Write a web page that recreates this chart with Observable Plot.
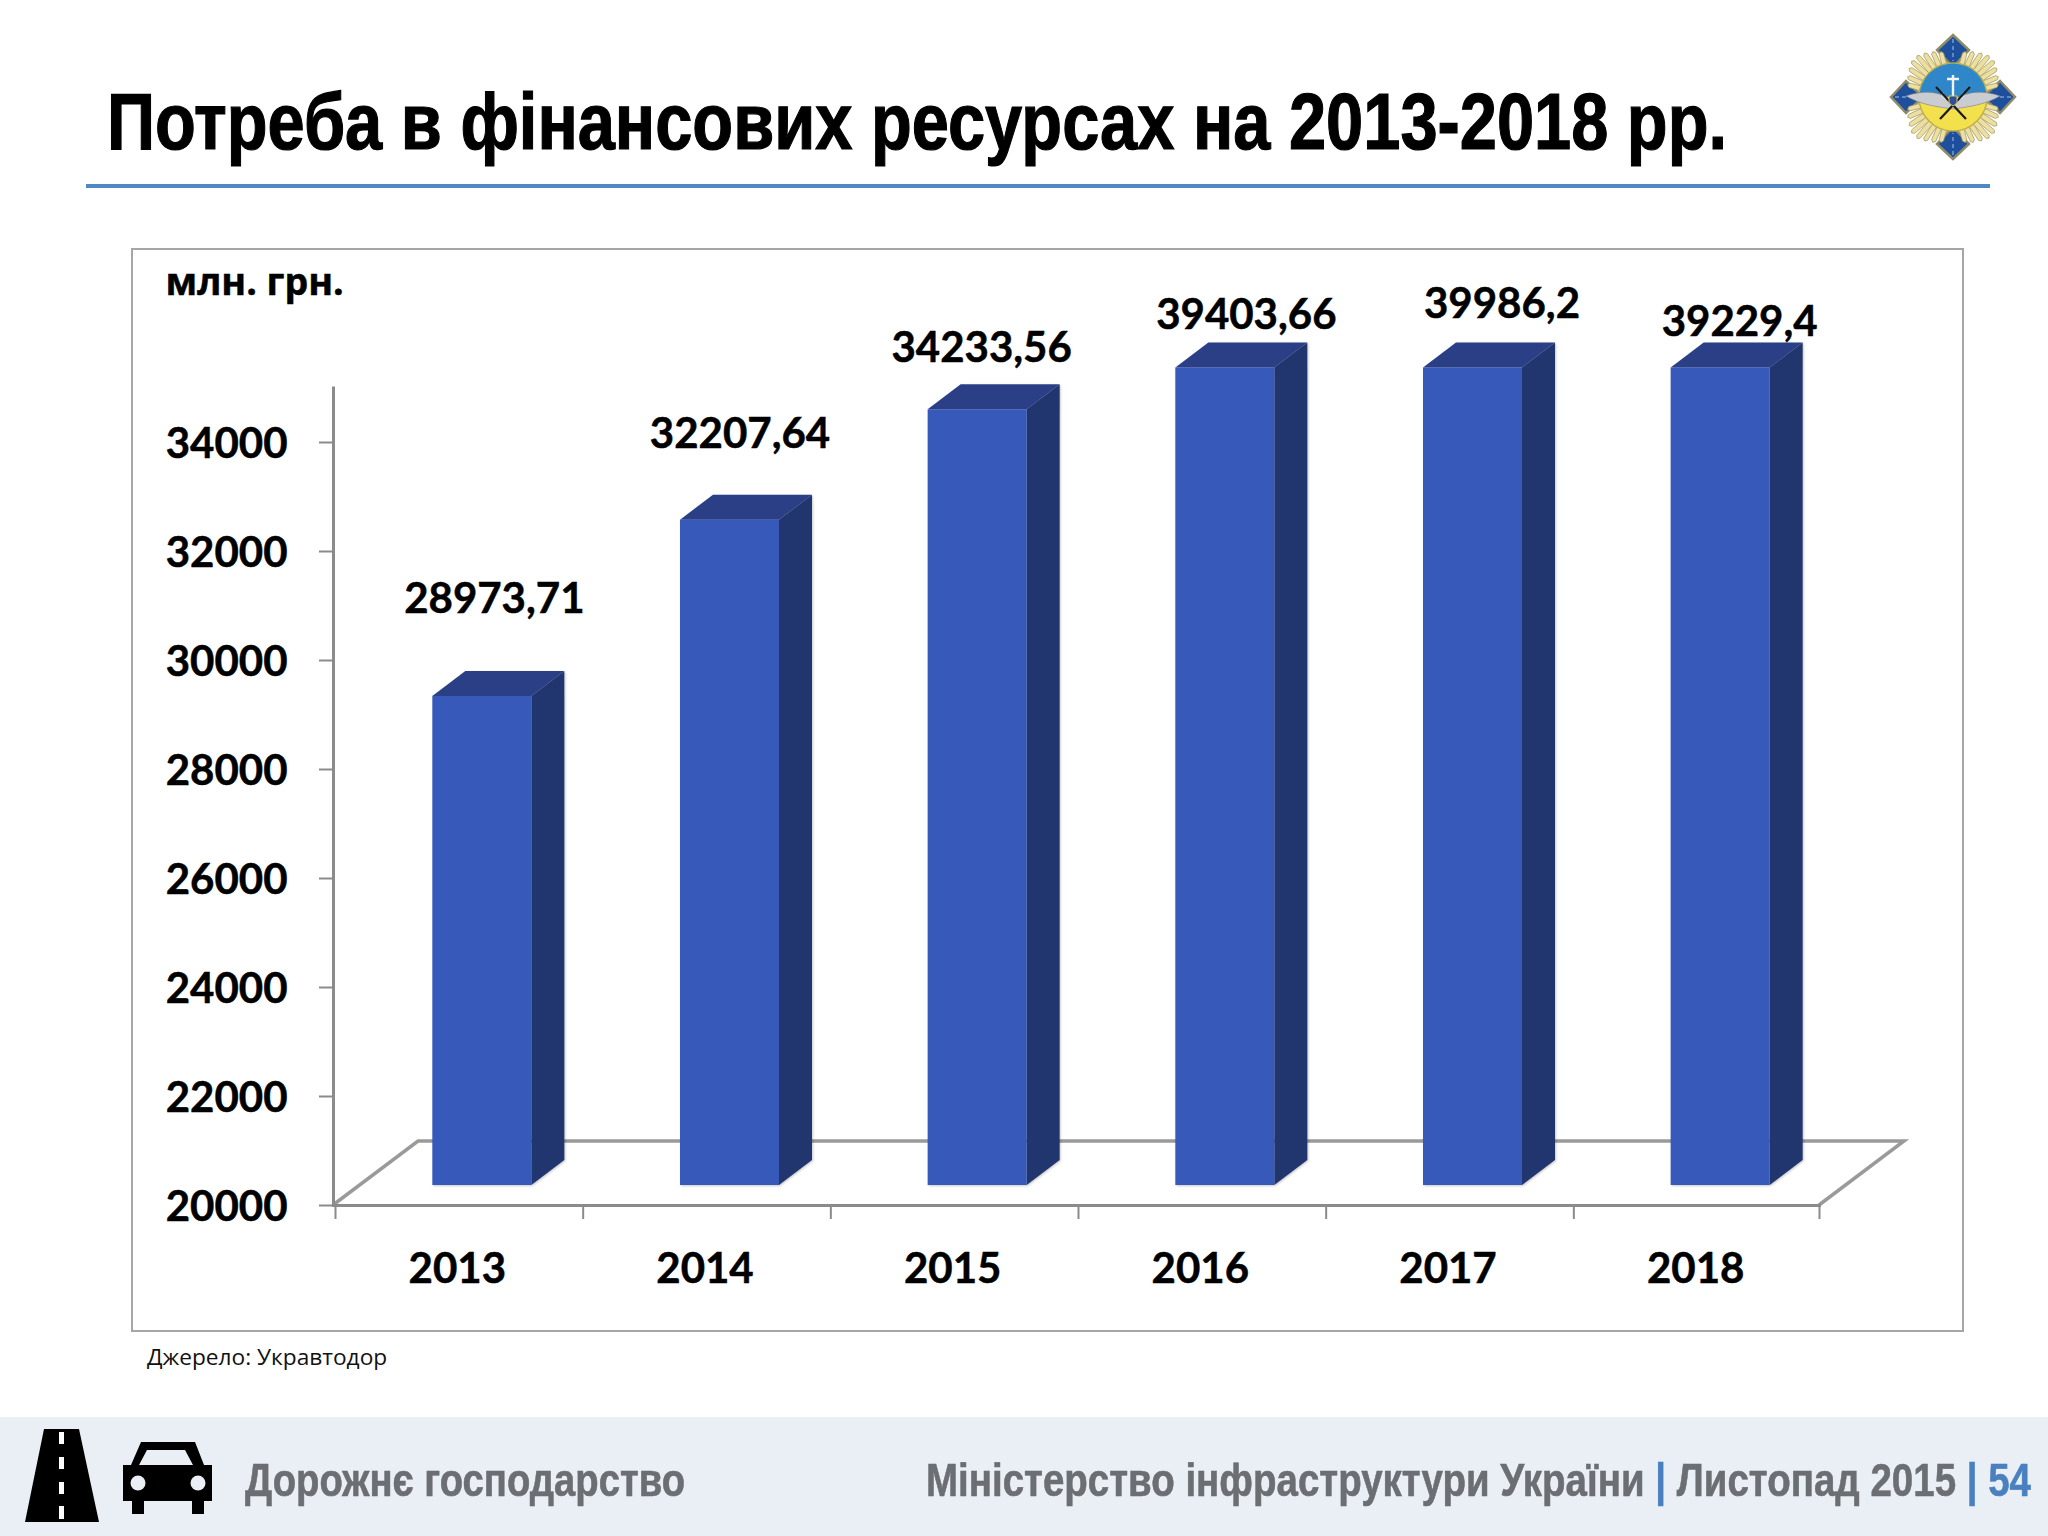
<!DOCTYPE html>
<html lang="uk">
<head>
<meta charset="utf-8">
<title>Потреба в фінансових ресурсах на 2013-2018 рр.</title>
<script src="https://cdn.jsdelivr.net/npm/d3@7"></script>
<script src="https://cdn.jsdelivr.net/npm/@observablehq/plot@0.6"></script>
<style>
  html, body { margin: 0; padding: 0; background: #fff; }
  #page { position: relative; width: 2048px; height: 1536px; overflow: hidden; background: #fff; }
  #page > * { position: absolute; }
  .narrow { font-family: "Liberation Sans Narrow", "Liberation Sans", sans-serif; font-weight: 700; white-space: nowrap; transform-origin: left center; line-height: 1; }
  #title { left: 107px; top: 82px; font-size: 80px; color: #000; -webkit-text-stroke: 1.2px #000; }
  #rule { left: 86px; top: 184px; width: 1904px; height: 4px; background: #5087c4; }
  #panel { left: 131px; top: 248px; width: 1829px; height: 1080px; border: 2px solid #a6a6a6; box-sizing: content-box; }
  #chart { left: 0; top: 190px; }
  #chart text { stroke: #000; stroke-width: 0.5px; }
  #source { left: 147px; top: 1341px; font: 22.7px "Open Sans", sans-serif; color: #111; }
  #footer { left: 0; top: 1417px; width: 2048px; height: 119px; background: #eaeff6; }
  #icons { left: 0; top: 1417px; }
  #footL { left: 245px; top: 1456px; font-size: 47px; color: #6b6e72; -webkit-text-stroke: 0.6px #6b6e72; }
  #footR { left: 926px; top: 1456px; font-size: 47px; color: #6b6e72; -webkit-text-stroke: 0.6px #6b6e72; }
  #footR b { color: #4a80bf; -webkit-text-stroke: 0.6px #4a80bf; }
  #logo { left: 1880px; top: 24px; }
</style>
</head>
<body>
<div id="page">
  <div id="title" class="narrow">Потреба в фінансових ресурсах на 2013-2018 рр.</div>
  <div id="rule"></div>
  <svg id="logo" width="146" height="146" viewBox="-73 -73 146 146"></svg>
  <div id="panel"></div>
  <div id="chart"></div>
  <div id="source">Джерело: Укравтодор</div>
  <div id="footer"></div>
  <svg id="icons" width="240" height="119" viewBox="0 0 240 119">
    <polygon points="44,12 79,12 99,105 25,105" fill="#000"/>
    <g fill="#fff"><rect x="59" y="15" width="5" height="12"/><rect x="59" y="40" width="5" height="12"/><rect x="59" y="65" width="5" height="12"/><rect x="59" y="89" width="5" height="13"/></g>
    <path d="M141,25 H195 L204,48 H212 V84 H204 V97 H192 V84 H144 V97 H132 V84 H123 V48 H131 Z" fill="#000"/>
    <polygon points="147,33 185,33 193,48 139,48" fill="#eaeff6"/>
    <circle cx="138" cy="66" r="7.5" fill="#eaeff6"/><circle cx="198" cy="66" r="7.5" fill="#eaeff6"/>
  </svg>
  <div id="footL" class="narrow">Дорожнє господарство</div>
  <div id="footR" class="narrow">Міністерство інфраструктури України <b>|</b> Листопад 2015 <b>|</b> <b>54</b></div>
</div>
<script>
// ---- data ----
const years = ["2013", "2014", "2015", "2016", "2017", "2018"];
const values = [28973.71, 32207.64, 34233.56, 39403.66, 39986.2, 39229.4];
const yTicks = [20000, 22000, 24000, 26000, 28000, 30000, 32000, 34000];
const yDomain = [20000, 35000];
const unitLabel = "млн. грн.";

const rows = years.map((year, i) => ({year, value: values[i], label: String(values[i]).replace(".", ",")}));

// ---- layout and style ----
const W = 2048, H = 1200;
const left = 335, right = 1821, top_ = 197.5, bottom = 1015;
const step = (right - left) / years.length;
const barWidth = 99;
const barDx = 23, barDy = -20;            // the 3D column stands off the axis plane
const depthX = 33, depthY = 25;           // column depth
const floorX = 85, floorY = 64;           // floor depth
const labelNudges = [[35, -117], [33, -106], [27, -81], [44, -72], [52, -83], [42, -65]];
const axisGrey = "#8b8b8b";
const numFont = "Lato, 'Open Sans', sans-serif";
const cyrFont = "'Open Sans', sans-serif";
const numSize = 42;

// floor of the 3D chart, tied to the plot frame
const floor = (index, scales, values, dims) => {
  const x0 = dims.marginLeft - 2, x1 = dims.width - dims.marginRight - 2, y0 = dims.height - dims.marginBottom;
  return d3.create("svg:path")
    .attr("d", `M${x0},${y0}L${x0 + floorX},${y0 - floorY}H${x1 + floorX}L${x1},${y0}`)
    .attr("fill", "none").attr("stroke", "#9a9a9a").attr("stroke-width", 3.5).node();
};

// draws the side and top faces from each rect that Plot laid out from the scales
const with3D = (index, scales, vals, dims, ctx, next) => {
  const g = next(index, scales, vals, dims, ctx);
  const parent = d3.select(g);
  parent.style("filter", "drop-shadow(1px 1px 1px rgba(0,0,0,0.22))");
  parent.selectAll("rect").nodes().forEach(node => {
    const r = d3.select(node);
    const x = +r.attr("x"), y = +r.attr("y"), w = +r.attr("width"), h = +r.attr("height");
    const holder = d3.select(node.parentNode);
    holder.insert("polygon", () => node)
      .attr("points", `${x + w},${y} ${x + w + depthX},${y - depthY} ${x + w + depthX},${y + h - depthY} ${x + w},${y + h}`)
      .attr("fill", "#21356f");
    holder.insert("polygon", () => node)
      .attr("points", `${x},${y} ${x + depthX},${y - depthY} ${x + w + depthX},${y - depthY} ${x + w},${y}`)
      .attr("fill", "#2a3f85");
  });
  return g;
};

const chart = Plot.plot({
  width: W, height: H,
  marginLeft: left, marginRight: W - right, marginTop: top_, marginBottom: H - bottom,
  style: {background: "transparent", color: "#000", overflow: "visible"},
  x: {type: "band", domain: years, padding: 0, round: false, label: null},
  y: {type: "linear", domain: yDomain, clamp: true, label: null},
  marks: [
    floor,
    Plot.frame({anchor: "left", stroke: axisGrey, strokeWidth: 3, dx: -2}),
    Plot.frame({anchor: "bottom", stroke: axisGrey, strokeWidth: 3, dx: -2}),
    Plot.axisY({ticks: yTicks, tickFormat: d => String(d), tickSize: 14, tickPadding: 32, dx: -2,
      stroke: axisGrey, strokeWidth: 2, fill: "#000", fontSize: numSize, fontWeight: 700, fontFamily: numFont, label: null}),
    Plot.axisX({tickSize: 0, tickPadding: 48, dx: -2, stroke: "none", fill: "#000", fontSize: numSize, fontWeight: 700, fontFamily: numFont, label: null}),
    Plot.ruleX(years, {x: d => d, dx: -step / 2, insetTop: bottom - top_, insetBottom: -14, stroke: axisGrey, strokeWidth: 2}),
    Plot.ruleX(years.slice(-1), {x: d => d, dx: step / 2 - 2, insetTop: bottom - top_, insetBottom: -14, stroke: axisGrey, strokeWidth: 2}),
    Plot.barY(rows, {
      x: "year", y: "value",
      insetLeft: (step - barWidth) / 2, insetRight: (step - barWidth) / 2,
      dx: barDx, dy: barDy,
      fill: "#3659ba",
      render: with3D
    }),
    ...labelNudges.map(([dx, dy], i) => Plot.text([rows[i]], {
      x: "year", y: "value", text: "label", dx, dy,
      fontSize: numSize, fontWeight: 700, fontFamily: numFont, fill: "#000"
    })),
    Plot.text([unitLabel], {frameAnchor: "top-left", dx: 165 - left, dy: 282 - 190 - top_, lineAnchor: "middle",
      fontSize: 37.5, fontWeight: 700, fontFamily: cyrFont, fill: "#000"})
  ]
});
document.getElementById("chart").append(chart);
// axis numerals sit slightly below their ticks in the reference
d3.select(chart).selectAll("g[aria-label='y-axis tick label'] text").attr("dy", 2.5);

// ---- emblem (decoration) ----
(function () {
  const s = d3.select("#logo");
  [0, 90, 180, 270].forEach(r => {
    const g = s.append("g").attr("transform", `rotate(${r})`);
    g.append("polygon").attr("points", "0,-62 16,-47 0,-30 -16,-47").attr("fill", "#1d4f9c").attr("stroke", "#8f8a68").attr("stroke-width", 2.5);
    g.append("line").attr("x1", 0).attr("x2", 0).attr("y1", -58).attr("y2", -36).attr("stroke", "#cfe0f5").attr("stroke-width", .8).attr("stroke-dasharray", "4 3");
  });
  [45, 135, 225, 315].forEach(q => {
    [-30, -21, -12, -4, 4, 12, 21, 30].forEach(o => {
      const len = 54 - Math.abs(o) * 0.3;
      s.append("polygon").attr("points", `-2.6,-28 2.6,-28 2.2,${-len} 0,${-len - 2} -2.2,${-len}`)
        .attr("fill", "#ecdf9f").attr("stroke", "#a59a63").attr("stroke-width", .7)
        .attr("transform", `rotate(${q + o})`);
    });
  });
  s.append("circle").attr("r", 34).attr("fill", "#f2e04d").attr("stroke", "#bdb04a").attr("stroke-width", 1.5);
  s.append("path").attr("d", "M-33.5,0A33.5,33.5 0 0 1 33.5,0Z").attr("fill", "#2f86c8");
  s.append("path").attr("d", "M-47,-1C-27,-8 -10,-5 0,5C10,-5 27,-8 47,-1C32,8 14,10 0,12C-14,10 -32,8 -47,-1Z").attr("fill", "#c9ccd1").attr("stroke", "#7b7f85").attr("stroke-width", .6);
  s.append("path").attr("d", "M0,-22V6M-6,-18H6M-11,-4C-8,5 8,5 11,-4").attr("fill", "none").attr("stroke", "#eef4f9").attr("stroke-width", 2.4);
  s.append("path").attr("d", "M-17,-10L13,22M17,-10L-13,22").attr("stroke", "#1a1a1a").attr("stroke-width", 2.2);
  s.append("path").attr("d", "M-4,-1H4V6L0,9L-4,6Z").attr("fill", "#2b4fa0").attr("stroke", "#e0c93c").attr("stroke-width", 1);
})();

// ---- fit the narrow header and footer lines to the widths in the reference ----
function fit(id, target) {
  const el = document.getElementById(id);
  el.style.transform = "scaleX(" + (target / el.getBoundingClientRect().width) + ")";
}
fit("title", 1620);
fit("footL", 440);
fit("footR", 1105);
</script>
</body>
</html>
